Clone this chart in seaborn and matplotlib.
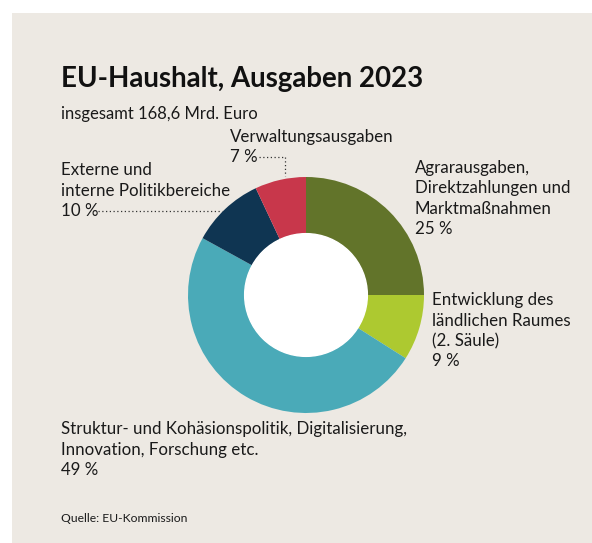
import matplotlib
matplotlib.use("Agg")
import matplotlib.pyplot as plt
from matplotlib.patches import Rectangle
import seaborn as sns

# Spending shares of the EU budget 2023 (percent), clockwise from 12 o'clock
categories = [
    "Agrarausgaben, Direktzahlungen und Marktmaßnahmen",
    "Entwicklung des ländlichen Raumes (2. Säule)",
    "Struktur- und Kohäsionspolitik, Digitalisierung, Innovation, Forschung etc.",
    "Externe und interne Politikbereiche",
    "Verwaltungsausgaben",
]
shares = [25, 9, 49, 10, 7]
colors = ["#62742a", "#adc930", "#4aaab8", "#0f3552", "#c8374b"]

# label lines as set in the graphic
label_lines = [
    ["Agrarausgaben,", "Direktzahlungen und", "Marktmaßnahmen"],
    ["Entwicklung des", "ländlichen Raumes", "(2. Säule)"],
    ["Struktur- und Kohäsionspolitik, Digitalisierung,", "Innovation, Forschung etc."],
    ["Externe und", "interne Politikbereiche"],
    ["Verwaltungsausgaben"],
]

title = "EU-Haushalt, Ausgaben 2023"
subtitle = "insgesamt 168,6 Mrd. Euro"
source = "Quelle: EU-Kommission"

sns.set_theme(style="white")
plt.rcParams["font.family"] = ["Lato", "DejaVu Sans"]

W, H = 592, 543
BG = "#ede9e3"
INK = "#1a1a1a"
FS = 12.2
fig = plt.figure(figsize=(W / 100, H / 100), dpi=100)
fig.patch.set_facecolor("white")

# beige card behind everything
fig.patches.append(Rectangle((12 / W, 0), 1 - 12 / W, 1 - 13 / H,
                             transform=fig.transFigure, facecolor=BG,
                             edgecolor="none", zorder=-10))

def px(x, y):
    return x / W, 1 - y / H

def text(x, y, s, size=FS, weight="normal", color=INK):
    fig.text(*px(x, y), s, fontsize=size, fontweight=weight, color=color,
             ha="left", va="baseline")

# donut
cx, cy, R = 306, 295, 118
ax = fig.add_axes([(cx - R) / W, 1 - (cy + R) / H, 2 * R / W, 2 * R / H])
ax.set_zorder(1)
ax.patch.set_visible(False)
ax.pie(shares, colors=colors, startangle=90, counterclock=False,
       wedgeprops=dict(width=0.48, linewidth=0), radius=1)
ax.set_xlim(-1, 1)
ax.set_ylim(-1, 1)
ax.set_aspect("equal")
ax.axis("off")
ax.add_patch(plt.Circle((0, 0), 0.52, color="white", zorder=3))

# headings
text(61, 87, title, size=19.9, weight="bold", color="#111111")
text(61, 119, subtitle, size=12.0)

LS = 20.5
positions = [(415, 172.5), (432, 305), (61, 434), (61, 175), (230, 142)]
for lines, share, (x, y) in zip(label_lines, shares, positions):
    for i, ln in enumerate(lines):
        text(x, y + i * LS, ln)
    text(x, y + len(lines) * LS, f"{share} %")

# dotted leader lines
dot = dict(color="#333333", linestyle=(0, (1, 2)), linewidth=0.9)
fig.add_artist(plt.Line2D([259 / W, 285 / W], [1 - 157 / H, 1 - 157 / H],
                          transform=fig.transFigure, **dot))
fig.add_artist(plt.Line2D([285 / W, 285 / W], [1 - 157 / H, 1 - 176 / H],
                          transform=fig.transFigure, **dot))
fig.add_artist(plt.Line2D([98 / W, 222 / W], [1 - 211 / H, 1 - 211 / H],
                          transform=fig.transFigure, **dot))

text(61, 522, source, size=8.7)

fig.savefig("out.png", dpi=100, facecolor=fig.get_facecolor())
